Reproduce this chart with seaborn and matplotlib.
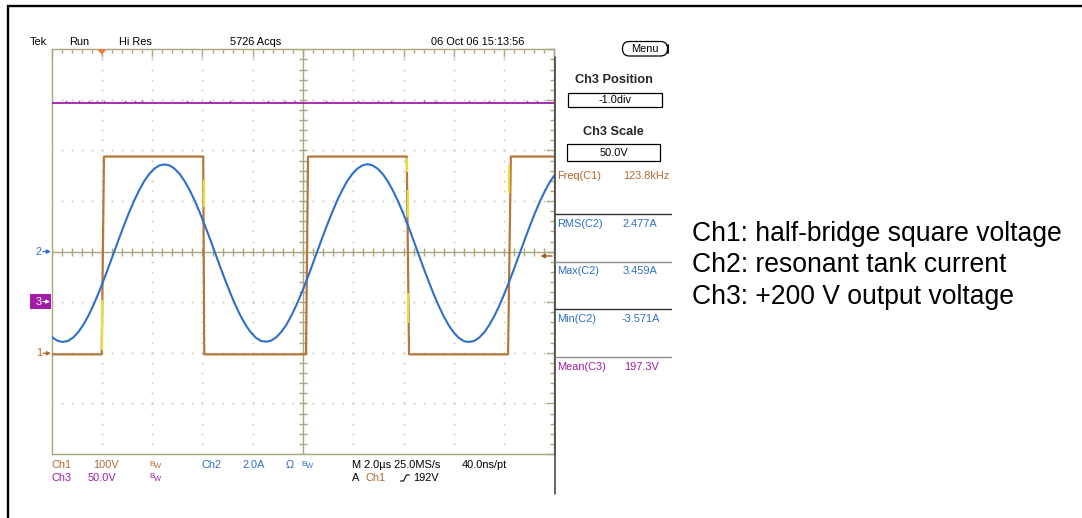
import numpy as np
import pandas as pd
import matplotlib
matplotlib.use("Agg")
import matplotlib.pyplot as plt
import seaborn as sns
from matplotlib.patches import Rectangle, FancyBboxPatch, Polygon

# ---------------- channel records ----------------
# Ch2: resonant tank current, sampled every 0.202 us starting at -0.16 us (A)
ch2_t0_us = -0.16
ch2_dt_us = 0.202
ch2_current_a = [
    -3.19, -3.40, -3.53,
    -3.57, -3.53, -3.40, -3.19, -2.90, -2.54, -2.12, -1.65, -1.14, -0.61,
    -0.06, 0.49, 1.02, 1.53, 2.00, 2.42, 2.78, 3.07, 3.28, 3.41,
    3.45, 3.41, 3.28, 3.07, 2.78, 2.42, 2.00, 1.53, 1.02, 0.49,
    -0.06, -0.61, -1.14, -1.65, -2.12, -2.54, -2.90, -3.19, -3.40, -3.53,
    -3.56, -3.52, -3.39, -3.18, -2.90, -2.53, -2.11, -1.64, -1.14, -0.60,
    -0.05, 0.50, 1.03, 1.53, 2.01, 2.42, 2.79, 3.07, 3.28, 3.41,
    3.46, 3.41, 3.28, 3.07, 2.78, 2.42, 2.00, 1.53, 1.02, 0.48,
    -0.07, -0.62, -1.15, -1.66, -2.13, -2.55, -2.91, -3.20, -3.41, -3.54,
    -3.57, -3.53, -3.40, -3.19, -2.90, -2.54, -2.12, -1.65, -1.14, -0.61,
    -0.06, 0.49, 1.02, 1.53, 2.00, 2.42, 2.78, 3.07,
]

# Ch1: half-bridge square voltage, corner points (us, V)
ch1_time_us = [-0.2, 1.99, 2.08, 6.03, 6.07, 10.12, 10.20, 14.13, 14.22, 18.16, 18.27, 20.2]
ch1_volts = [-3, -3, 388, 388, -3, -3, 388, 388, -3, -3, 388, 388]

# bright persistence segments on the switching edges (us, V from, V to)
ch1_glow_time_us = [2.00, 6.05, 14.15, 14.17, 14.19, 18.21]
ch1_glow_from_v = [5, 288, 357, 268, 59, 316]
ch1_glow_to_v = [104, 341, 385, 321, 118, 371]

# Ch3: +200 V output voltage (us, V)
ch3_time_us = [0.0, 20.0]
ch3_volts = [197.3, 197.3]
# short noise excursions riding on Ch3 (us)
ch3_spike_us = [0.55, 1.1, 1.5, 1.8, 2.1, 2.9, 3.3, 3.6, 5.4, 6.3, 7.1, 8.6, 9.3,
                9.7, 10.9, 12.2, 13.0, 13.5, 14.8, 15.3, 16.6, 17.4, 18.9, 19.3]

# vertical settings: volts-or-amps per division and position offset (div)
ch1_scale, ch1_pos = 100.0, -2.0
ch2_scale, ch2_pos = 2.0, 0.0
ch3_scale, ch3_pos = 50.0, -1.0

# measurement readouts
meas_names = ["Freq(C1)", "RMS(C2)", "Max(C2)", "Min(C2)", "Mean(C3)"]
meas_values = ["123.8kHz", "2.477A", "3.459A", "-3.571A", "197.3V"]

notes = ["Ch1: half-bridge square voltage",
         "Ch2: resonant tank current",
         "Ch3: +200 V output voltage"]

# ---------------- styling ----------------
sns.set_style("white")
plt.rcParams["font.family"] = ["Liberation Sans", "DejaVu Sans"]

BROWN = "#b8763c"
BROWN_TXT = "#b06a32"
BLUE = "#2f6fc8"
PURPLE = "#a21ca8"
GRAT = "#aca67e"
DOTS = "#cbc7b3"
YELLOW = "#e6df3a"

W, H = 1082, 518
fig = plt.figure(figsize=(W / 100, H / 100), dpi=100)

# graticule axes: 10 x 8 divisions, time in microseconds, y in divisions
gl, gr, gt, gb = 51.7, 554.3, 49.3, 454.0
ax = fig.add_axes([gl / W, 1 - gb / H, (gr - gl) / W, (gb - gt) / H])
ax.set_xlim(0, 20)
ax.set_ylim(-4, 4)
for s in ax.spines.values():
    s.set_color(GRAT)
    s.set_linewidth(1.0)
ax.set_xticks(np.arange(0, 20.01, 2))
ax.set_xticks(np.arange(0, 20.01, 0.4), minor=True)
ax.set_yticks(np.arange(-4, 4.01, 1))
ax.set_yticks(np.arange(-4, 4.01, 0.2), minor=True)
ax.tick_params(which="both", direction="in", top=True, right=True,
               labelbottom=False, labelleft=False, color=GRAT, width=1.0)
ax.tick_params(which="major", length=5.5)
ax.tick_params(which="minor", length=2.9)

# dotted division grid
minor_x = np.arange(0, 20.01, 0.4)
minor_y = np.arange(-4, 4.01, 0.2)
for xv in [2, 4, 6, 8, 12, 14, 16, 18]:
    ax.plot(np.full_like(minor_y, xv), minor_y, ls="none", marker="s", ms=1.2,
            mew=0, color=DOTS, zorder=1)
for yv in [-3, -2, -1, 1, 2, 3]:
    ax.plot(minor_x, np.full_like(minor_x, yv), ls="none", marker="s", ms=1.2,
            mew=0, color=DOTS, zorder=1)

# centre crosshair with subdivision ticks
ax.axhline(0, color=GRAT, lw=1.0, zorder=1)
ax.axvline(10, color=GRAT, lw=1.0, zorder=1)
ax.plot(minor_x, np.zeros_like(minor_x), ls="none", marker="|", ms=6, mew=1.0,
        color=GRAT, zorder=1)
ax.plot(np.full_like(minor_y, 10), minor_y, ls="none", marker="_", ms=6, mew=1.0,
        color=GRAT, zorder=1)

# traces
df2 = pd.DataFrame({"t": ch2_t0_us + ch2_dt_us * np.arange(len(ch2_current_a)),
                    "div": np.array(ch2_current_a) / ch2_scale + ch2_pos})
df1 = pd.DataFrame({"t": ch1_time_us,
                    "div": np.array(ch1_volts) / ch1_scale + ch1_pos})
df3 = pd.DataFrame({"t": ch3_time_us,
                    "div": np.array(ch3_volts) / ch3_scale + ch3_pos})

sns.lineplot(data=df3, x="t", y="div", ax=ax, color=PURPLE, lw=1.3,
             estimator=None, sort=False, legend=False, zorder=3)
ax.plot(ch3_spike_us, np.full(len(ch3_spike_us), ch3_volts[0] / ch3_scale + ch3_pos + 0.025),
        ls="none", marker="s", ms=1.1, mew=0, color=PURPLE, alpha=0.8, zorder=3)
sns.lineplot(data=df1, x="t", y="div", ax=ax, color=BROWN, lw=1.6,
             estimator=None, sort=False, legend=False, zorder=3)
for t, v0, v1 in zip(ch1_glow_time_us, ch1_glow_from_v, ch1_glow_to_v):
    ax.plot([t, t], [v0 / ch1_scale + ch1_pos, v1 / ch1_scale + ch1_pos],
            color=YELLOW, lw=1.6, zorder=4, solid_capstyle="butt")
sns.lineplot(data=df2, x="t", y="div", ax=ax, color=BLUE, lw=1.5,
             estimator=None, sort=False, legend=False, zorder=5)
ax.set_xlabel("")
ax.set_ylabel("")

# ---------------- pixel overlay for the screen furniture ----------------
ov = fig.add_axes([0, 0, 1, 1])
ov.set_xlim(0, W)
ov.set_ylim(H, 0)
ov.axis("off")
ov.patch.set_visible(False)
ov.set_zorder(10)

# page frame
ov.plot([8, 8], [5, H], color="black", lw=1.7, solid_capstyle="butt")
ov.plot([7.2, W], [5.6, 5.6], color="black", lw=1.7, solid_capstyle="butt")

# side-panel border
ov.plot([554.6, 554.6], [57, 494], color="#3a3a3a", lw=1.1)

sf = dict(fontsize=7.9, va="center")

# header line
for txt, x in [("Tek", 30), ("Run", 69), ("Hi Res", 119), ("5726 Acqs", 230),
               ("06 Oct 06 15:13:56", 431)]:
    ov.text(x, 42, txt, ha="left", color="black", **sf)

# trigger position marker
ov.add_patch(Polygon([(97.2, 49.3), (106.2, 49.3), (101.7, 54.8)], closed=True,
                     color="#f07a2e", lw=0, zorder=12))

# menu button and control boxes
ov.add_patch(FancyBboxPatch((622.5, 41.5), 45, 14.5,
                            boxstyle="round,pad=0,rounding_size=7",
                            fc="white", ec="black", lw=0.9))
ov.plot([667.5, 667.5], [45, 53], color="black", lw=1.3)
ov.text(645, 49, "Menu", ha="center", color="black", **sf)
ov.text(613.5, 80, "Ch3 Position", ha="center", fontsize=9.2,
        fontweight="bold", va="center")
ov.add_patch(Rectangle((568.3, 92.7), 93.4, 14.8, fill=False, ec="black", lw=0.9))
ov.text(615, 100.3, "-1.0div", ha="center", color="black", **sf)
ov.text(613.5, 132, "Ch3 Scale", ha="center", fontsize=9.2,
        fontweight="bold", va="center")
ov.add_patch(Rectangle((567.3, 144.3), 92.7, 16.4, fill=False, ec="black", lw=0.9))
ov.text(613.5, 152.8, "50.0V", ha="center", color="black", **sf)

# measurement readouts
meas_y = [176, 224, 271, 319, 366.5]
meas_colors = [BROWN_TXT, BLUE, BLUE, BLUE, PURPLE]
value_x = [623.3, 622.7, 622.7, 621.5, 624.5]
for name, val, y, c, vx in zip(meas_names, meas_values, meas_y, meas_colors, value_x):
    ov.text(556.8, y, name, ha="left", color=c, **sf)
    ov.text(vx, y, val, ha="left", color=c, **sf)
for y, c in [(214.3, "#333333"), (261.7, "#8c8c8c"), (309.3, "#333333"),
             (356.7, "#8c8c8c")]:
    ov.plot([555, 671], [y, y], color=c, lw=1.0)

# channel ground markers on the left edge
ov.text(39, 252, "2", ha="center", color=BLUE, **sf)
ov.annotate("", xy=(51, 251.6), xytext=(43, 251.6),
            arrowprops=dict(arrowstyle="-|>", color=BLUE, lw=0.9,
                            mutation_scale=6, shrinkA=0, shrinkB=0))
ov.text(39, 353.3, "1", ha="center", color=BROWN_TXT, **sf)
ov.annotate("", xy=(51, 353.3), xytext=(43, 353.3),
            arrowprops=dict(arrowstyle="-|>", color=BROWN_TXT, lw=0.9,
                            mutation_scale=6, shrinkA=0, shrinkB=0))
ov.add_patch(Rectangle((30, 294), 20.7, 14.7, color=PURPLE, lw=0))
ov.text(38.5, 301.6, "3", ha="center", color="white", **sf)
ov.annotate("", xy=(50, 301.6), xytext=(43, 301.6),
            arrowprops=dict(arrowstyle="-|>", color="white", lw=0.9,
                            mutation_scale=5, shrinkA=0, shrinkB=0))

# trigger level marker on the right edge
ov.annotate("", xy=(540.5, 256), xytext=(552, 256),
            arrowprops=dict(arrowstyle="-|>", color="#a65a1e", lw=1.0,
                            mutation_scale=6, shrinkA=0, shrinkB=0))

# bottom status lines
row1, row2 = 465.5, 478.3
items = [
    ("Ch1", 51.7, row1, BROWN_TXT), ("100V", 93.3, row1, BROWN_TXT),
    ("Ch2", 202, row1, BLUE), ("2.0A", 242.2, row1, BLUE), ("Ω", 286, row1, BLUE),
    ("M 2.0µs 25.0MS/s", 352, row1, "black"), ("40.0ns/pt", 461.3, row1, "black"),
    ("Ch3", 51.7, row2, PURPLE), ("50.0V", 87.3, row2, PURPLE),
    ("A", 352, row2, "black"), ("Ch1", 365, row2, BROWN_TXT),
    ("192V", 413, row2, "black"),
]
for txt, x, y, c in items:
    ov.text(x, y, txt, ha="left", color=c, **sf)
# bandwidth-limit flags
for x, y, c in [(149.6, row1, BROWN_TXT), (301, row1, BLUE), (149.6, row2, PURPLE)]:
    ov.text(x, y - 1.5, "B", ha="left", color=c, fontsize=5.8, va="center")
    ov.text(x + 4.8, y + 0.8, "W", ha="left", color=c, fontsize=5.4, va="center")
# rising-slope symbol
ov.plot([400.5, 403.5, 406.5, 409.5], [481, 481, 475, 475], color="black", lw=0.8)

# channel notes
for txt, yb in zip(notes, [241, 272.5, 304]):
    ov.text(692, yb, txt, ha="left", va="baseline", fontsize=19.1, color="black")

fig.savefig("out.png", dpi=100)
